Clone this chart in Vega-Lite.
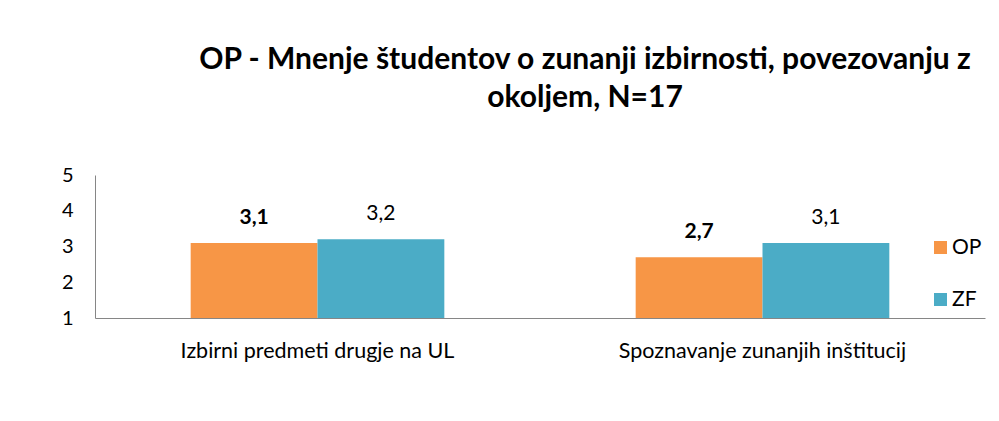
{
  "$schema": "https://vega.github.io/schema/vega-lite/v6.json",
  "width": 890,
  "height": 143,
  "autosize": {"type": "none"},
  "padding": {"left": 95, "top": 175, "right": 14, "bottom": 103},
  "background": "white",
  "config": {
    "view": {"stroke": null},
    "font": "Lato",
    "locale": {"number": {"decimal": ",", "thousands": ".", "grouping": [3], "currency": ["", " €"]}}
  },
  "title": {
    "text": ["OP - Mnenje študentov o zunanji izbirnosti, povezovanju z", "okoljem, N=17"],
    "font": "Lato",
    "fontSize": 30,
    "fontWeight": "bold",
    "color": "#000000",
    "anchor": "middle",
    "dx": 45,
    "lineHeight": 38,
    "offset": 52
  },
  "data": {
    "values": [
      {"kategorija": "Izbirni predmeti drugje na UL", "skupina": "OP", "vrednost": 3.1},
      {"kategorija": "Izbirni predmeti drugje na UL", "skupina": "ZF", "vrednost": 3.2},
      {"kategorija": "Spoznavanje zunanjih inštitucij", "skupina": "OP", "vrednost": 2.7},
      {"kategorija": "Spoznavanje zunanjih inštitucij", "skupina": "ZF", "vrednost": 3.1}
    ]
  },
  "encoding": {
    "x": {
      "field": "kategorija",
      "type": "nominal",
      "sort": null,
      "scale": {"paddingInner": 0.43, "paddingOuter": 0.215},
      "axis": {
        "title": null,
        "labelAngle": 0,
        "labelLimit": 0,
        "domainColor": "#868686",
        "domainWidth": 1,
        "ticks": false,
        "tickSize": 0,
        "labelFontSize": 21.5,
        "labelFont": "Lato",
        "labelColor": "#000000",
        "labelPadding": 22
      }
    },
    "xOffset": {"field": "skupina", "type": "nominal", "sort": ["OP", "ZF"]},
    "y": {
      "field": "vrednost",
      "type": "quantitative",
      "scale": {"domain": [1, 5], "zero": false, "nice": false},
      "axis": {
        "title": null,
        "values": [1, 2, 3, 4, 5],
        "grid": false,
        "ticks": false,
        "tickSize": 0,
        "domainColor": "#868686",
        "domainWidth": 1,
        "labelFontSize": 20,
        "labelFont": "Lato",
        "labelColor": "#000000",
        "labelPadding": 22,
        "format": "d"
      }
    }
  },
  "layer": [
    {
      "mark": {"type": "bar"},
      "encoding": {
        "y2": {"datum": 1},
        "color": {
          "field": "skupina",
          "type": "nominal",
          "scale": {"domain": ["OP", "ZF"], "range": ["#F79646", "#4BACC6"]},
          "legend": {
            "title": null,
            "orient": "none",
            "legendX": 835,
            "legendY": 62,
            "symbolType": "square",
            "symbolSize": 169,
            "symbolStrokeWidth": 0,
            "labelFontSize": 21,
            "labelFont": "Lato",
            "labelColor": "#000000",
            "labelOffset": 1,
            "rowPadding": 30,
            "padding": 0
          }
        }
      }
    },
    {
      "transform": [{"filter": "datum.skupina === 'OP'"}],
      "mark": {"type": "text", "baseline": "alphabetic", "dy": -19, "fontSize": 21, "fontWeight": "bold", "font": "Lato", "color": "#000000"},
      "encoding": {"text": {"field": "vrednost", "type": "quantitative", "format": ".1f"}}
    },
    {
      "transform": [{"filter": "datum.skupina === 'ZF'"}],
      "mark": {"type": "text", "baseline": "alphabetic", "dy": -19, "fontSize": 21, "fontWeight": "normal", "font": "Lato", "color": "#000000"},
      "encoding": {"text": {"field": "vrednost", "type": "quantitative", "format": ".1f"}}
    }
  ]
}
